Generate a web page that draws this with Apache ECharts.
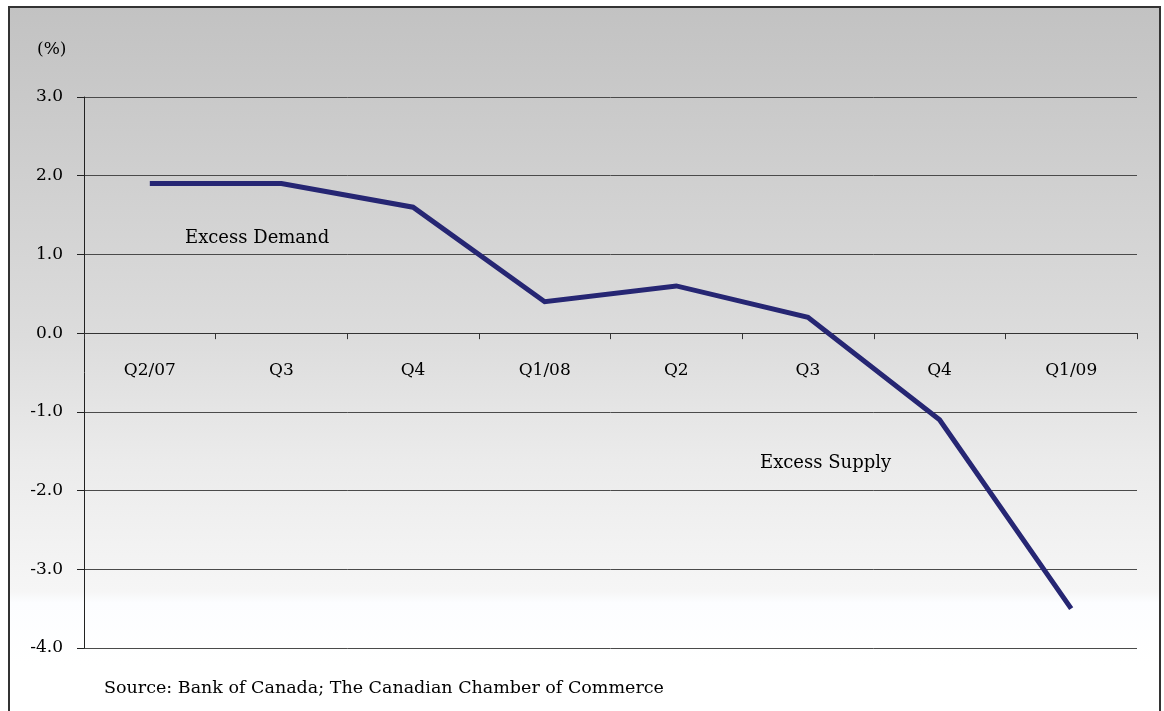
<!DOCTYPE html>
<html>
<head>
<meta charset="utf-8">
<script src="https://cdn.jsdelivr.net/npm/echarts@6/dist/echarts.min.js"></script>
<style>
  html, body { margin: 0; padding: 0; background: #ffffff; }
  #chart { width: 1164px; height: 711px; }
</style>
</head>
<body>
<div id="chart"></div>
<script>
// Output gap by quarter (%)
const quarters = ['Q2/07', 'Q3', 'Q4', 'Q1/08', 'Q2', 'Q3', 'Q4', 'Q1/09'];
const outputGap = [1.9, 1.9, 1.6, 0.4, 0.6, 0.2, -1.1, -3.5];
const yTicks = [-4, -3, -2, -1, 0, 1, 2, 3];

const serif = '"DejaVu Serif", "Liberation Serif", serif';
const gridTop = 97, gridBottom = 63, chartH = 711;
const plotH = chartH - gridTop - gridBottom;
const yMin = yTicks[0], yMax = yTicks[yTicks.length - 1];
// shift the category axis up so it sits on the zero line
const zeroOffset = -plotH * (0 - yMin) / (yMax - yMin);

const chart = echarts.init(document.getElementById('chart'), null, { renderer: 'canvas' });

chart.setOption({
  backgroundColor: '#ffffff',
  animation: false,
  graphic: [
    {
      type: 'rect',
      z: -10,
      silent: true,
      shape: { x: 9, y: 7, width: 1151, height: 730 },
      style: {
        fill: new echarts.graphic.LinearGradient(0, 0, 0, 1, [
          { offset: 0, color: '#c2c2c2' },
          { offset: 0.45, color: '#dcdcdc' },
          { offset: 0.62, color: '#ebebeb' },
          { offset: 0.8, color: '#f6f6f6' },
          { offset: 0.815, color: '#fcfdff' },
          { offset: 0.9, color: '#ffffff' },
          { offset: 1, color: '#ffffff' }
        ]),
        stroke: '#333333',
        lineWidth: 2
      }
    },
    {
      type: 'text', left: 37, top: 41, z: 10,
      style: { text: '(%)', font: '17px ' + serif, fill: '#000' }
    },
    {
      type: 'text', left: 185, top: 229, z: 10,
      style: { text: 'Excess Demand', font: '18px ' + serif, fill: '#000' }
    },
    {
      type: 'text', left: 760, top: 454, z: 10,
      style: { text: 'Excess Supply', font: '18px ' + serif, fill: '#000' }
    },
    {
      type: 'text', left: 104, top: 679, z: 10,
      style: { text: 'Source: Bank of Canada; The Canadian Chamber of Commerce', font: '17.5px ' + serif, fill: '#000' }
    }
  ],
  grid: { left: 84, right: 27, top: gridTop, bottom: gridBottom, containLabel: false },
  xAxis: {
    type: 'category',
    data: quarters,
    boundaryGap: true,
    offset: zeroOffset,
    axisLine: { onZero: false, lineStyle: { color: '#333', width: 1 } },
    axisTick: { show: true, length: 6, alignWithLabel: false, lineStyle: { color: '#333' } },
    axisLabel: { margin: 29, color: '#000', fontFamily: serif, fontSize: 17 },
    splitLine: { show: false }
  },
  yAxis: {
    type: 'value',
    min: yMin,
    max: yMax,
    interval: 1,
    axisLine: { show: true, lineStyle: { color: '#222', width: 1 } },
    axisTick: { show: true, length: 7, lineStyle: { color: '#222' } },
    axisLabel: {
      margin: 21,
      color: '#000',
      fontFamily: serif,
      fontSize: 17,
      formatter: v => v.toFixed(1)
    },
    splitLine: { show: true, lineStyle: { color: '#4a4a4a', width: 1 } }
  },
  series: [{
    type: 'line',
    data: outputGap,
    showSymbol: false,
    symbol: 'none',
    lineStyle: { color: '#262673', width: 5, cap: 'butt', join: 'miter' },
    z: 5
  }]
});
</script>
</body>
</html>
